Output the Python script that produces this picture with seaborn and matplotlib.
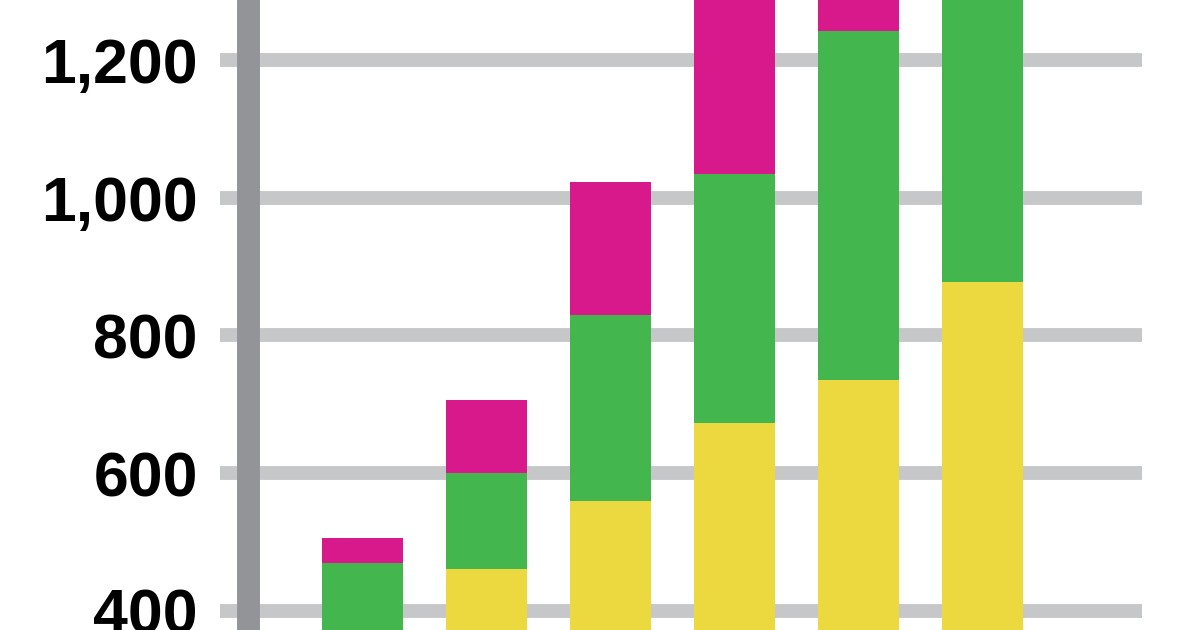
import numpy as np
import pandas as pd
import matplotlib
matplotlib.use("Agg")
import matplotlib.pyplot as plt
import seaborn as sns
from matplotlib.ticker import FuncFormatter

# values (bottom part and tops are cropped)
groups = ["A", "B", "C", "D", "E", "F"]
yellow = [340, 461, 560, 673, 735, 877]
green = [130, 139, 270, 361, 507, 480]
magenta = [36, 106, 193, 330, 180, 120]
yticks = [400, 600, 800, 1000, 1200]

c_yellow = "#ECD83F"
c_green = "#44B64E"
c_magenta = "#D8198B"
c_grid = "#C6C7C9"
c_spine = "#939498"

sns.set_style("white")
plt.rcParams["font.family"] = ["Liberation Sans", "DejaVu Sans"]

top_yellow = np.array(yellow)
top_green = top_yellow + np.array(green)
top_magenta = top_green + np.array(magenta)

df = pd.DataFrame({"group": groups, "yellow": top_yellow,
                   "green": top_green, "magenta": top_magenta})

fig = plt.figure(figsize=(12, 6.3), dpi=100)
ax = fig.add_axes([220 / 1200, 0, 922 / 1200, 1])

w = 0.657
sns.barplot(data=df, x="group", y="magenta", color=c_magenta, width=w,
            saturation=1, linewidth=0, ax=ax, zorder=2)
sns.barplot(data=df, x="group", y="green", color=c_green, width=w,
            saturation=1, linewidth=0, ax=ax, zorder=3)
sns.barplot(data=df, x="group", y="yellow", color=c_yellow, width=w,
            saturation=1, linewidth=0, ax=ax, zorder=4)

ax.set_xlim(-1.149, 6.286)
ax.set_ylim(372, 1287)

ax.set_yticks(yticks)
ax.yaxis.set_major_formatter(FuncFormatter(lambda v, p: f"{int(v):,}"))
ax.tick_params(axis="y", length=0, pad=16, labelsize=45, labelcolor="black")
for lab in ax.get_yticklabels():
    lab.set_fontweight("bold")
ax.set_xticks([])
ax.set_xlabel("")
ax.set_ylabel("")

for t in yticks:
    ax.axhline(t, color=c_grid, lw=10, zorder=1)

ax.axvline(-0.923, color=c_spine, lw=16.5, zorder=5)

for s in ax.spines.values():
    s.set_visible(False)

fig.savefig("out.png", dpi=100)
